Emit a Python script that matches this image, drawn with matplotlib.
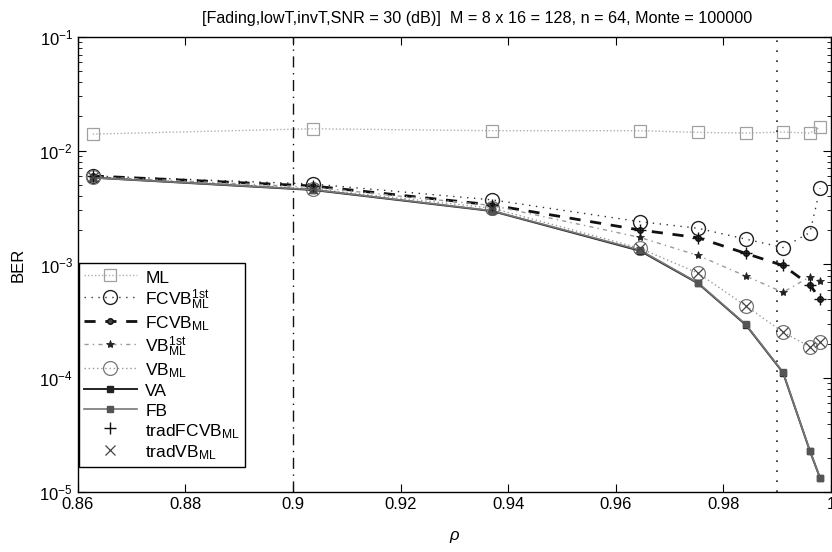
import matplotlib
matplotlib.use("Agg")
import matplotlib.pyplot as plt
import numpy as np

plt.rcParams['font.family'] = ['Liberation Sans', 'DejaVu Sans']
plt.rcParams['mathtext.fontset'] = 'custom'
plt.rcParams['mathtext.rm'] = 'Liberation Sans'
plt.rcParams['mathtext.it'] = 'Liberation Sans:italic'
plt.rcParams['mathtext.bf'] = 'Liberation Sans:bold'

# Data
rho = [0.8628, 0.9037, 0.9370, 0.9645, 0.9753, 0.9842, 0.9911, 0.9961, 0.9980]
ber_ml = [0.0140, 0.0156, 0.0150, 0.0150, 0.0145, 0.0143, 0.0146, 0.0143, 0.0161]
ber_fcvb1st = [0.0060, 0.0051, 0.0037, 0.00238, 0.00208, 0.00167, 0.00141, 0.00191, 0.00468]
ber_fcvb = [0.0060, 0.0049, 0.00334, 0.00201, 0.00172, 0.00125, 0.00098, 0.00066, 0.00050]
ber_vb1st = [0.0059, 0.00478, 0.0033, 0.00173, 0.00120, 0.00079, 0.00057, 0.00078, 0.00072]
ber_vb = [0.0059, 0.00463, 0.00313, 0.00139, 0.00084, 0.000432, 0.000254, 0.000189, 0.000209]
ber_va = [0.0058, 0.00452, 0.00295, 0.00132, 0.000683, 0.000294, 0.000112, 2.29e-5, 1.32e-5]
ber_fb = [0.0058, 0.00455, 0.00297, 0.00134, 0.000690, 0.000297, 0.000113, 2.3e-5, 1.33e-5]
ber_tradfcvb = [0.0060, 0.0049, 0.00334, 0.00201, 0.00172, 0.00125, 0.00098, 0.00066, 0.00050]
ber_tradvb = [0.0059, 0.00463, 0.00313, 0.00139, 0.00084, 0.000432, 0.000254, 0.000189, 0.000209]

vlines = [0.9, 0.99]
xticks = [0.86, 0.88, 0.9, 0.92, 0.94, 0.96, 0.98, 1.0]
xticklabels = ['0.86', '0.88', '0.9', '0.92', '0.94', '0.96', '0.98', '1']

fig = plt.figure(figsize=(8.32, 5.52), dpi=100)
ax = fig.add_axes([0.0934, 0.1087, 0.9053, 0.8243])

gray = '#9a9a9a'
ax.plot(rho, ber_ml, linestyle=(0, (1, 1.5)), color='#b0b0b0', lw=1.0, marker='s',
        ms=8, mfc='none', mec='#a0a0a0', mew=0.9, label='ML')
ax.plot(rho, ber_fcvb1st, linestyle=(0, (1, 4)), color='#333333', lw=1.0, marker='o',
        ms=10, mfc='none', mec='#222222', mew=1.0, label=r'FCVB$^{\rm 1st}_{\rm ML}$')
ax.plot(rho, ber_fcvb, linestyle=(0, (4, 3.5)), color='#111111', lw=2.0, marker='o',
        ms=4, mfc='#444444', mec='#111111', mew=1.0, label=r'FCVB$_{\rm ML}$')
ax.plot(rho, ber_vb1st, linestyle=(0, (3, 3, 1, 3)), color=gray, lw=1.0, marker='*',
        ms=6, mfc='#222222', mec='#222222', mew=0.6, label=r'VB$^{\rm 1st}_{\rm ML}$')
ax.plot(rho, ber_vb, linestyle=(0, (1, 2)), color=gray, lw=1.0, marker='o',
        ms=10, mfc='none', mec='#777777', mew=0.9, label=r'VB$_{\rm ML}$')
ax.plot(rho, ber_va, linestyle='-', color='#222222', lw=1.4, marker='s',
        ms=4.5, mfc='#222222', mec='#222222', label='VA')
ax.plot(rho, ber_fb, linestyle='-', color='#777777', lw=1.2, marker='s',
        ms=4, mfc='#555555', mec='#555555', label='FB')
ax.plot(rho, ber_tradfcvb, linestyle='none', color='#111111', marker='+',
        ms=9, mew=1.0, label=r'tradFCVB$_{\rm ML}$')
ax.plot(rho, ber_tradvb, linestyle='none', color='#444444', marker='x',
        ms=7, mew=0.9, label=r'tradVB$_{\rm ML}$')

ax.axvline(vlines[0], color='#111111', lw=1.0, linestyle=(0, (8, 4, 1, 4)))
ax.axvline(vlines[1], color='#222222', lw=1.2, linestyle=(0, (1, 5)))

ax.set_yscale('log')
ax.set_xlim(0.86, 1.0)
ax.set_ylim(1e-5, 1e-1)
ax.set_xticks(xticks)
ax.set_xticklabels(xticklabels)
ax.tick_params(which='both', direction='in', top=True, right=True, labelsize=12)
ax.tick_params(which='major', length=6)
ax.tick_params(which='minor', length=3)
for s in ax.spines.values():
    s.set_linewidth(1.0)

ax.set_xlabel(r'$\rho$', fontsize=12, labelpad=12)
ax.set_ylabel('BER', fontsize=12, labelpad=10)
ax.set_title('[Fading,lowT,invT,SNR = 30 (dB)]  M = 8 x 16 = 128, n = 64, Monte = 100000',
             fontsize=11.6, pad=10, x=0.53)

leg = ax.legend(loc='lower left', bbox_to_anchor=(0.002, 0.055), fontsize=12.5,
                frameon=True, fancybox=False, edgecolor='black', framealpha=1.0,
                handlelength=3.0, handleheight=1.25, handletextpad=0.5,
                labelspacing=0.08, borderpad=0.3, borderaxespad=0.0)
leg.get_frame().set_linewidth(1.0)

fig.savefig('out.png', dpi=100)
